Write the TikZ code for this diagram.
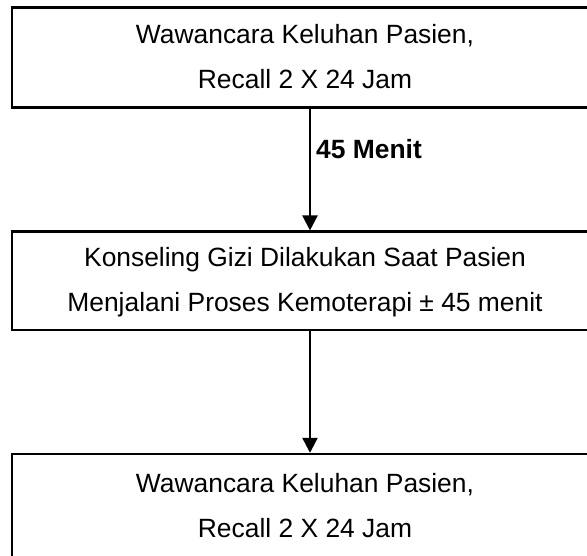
\documentclass[tikz,border=0pt]{standalone}
\usepackage{fontspec}
\setmainfont{Liberation Sans}
\usetikzlibrary{arrows.meta}
\newcommand\lnstrut{\rule[-6pt]{0pt}{29pt}}
\begin{document}
\begin{tikzpicture}[x=1pt,y=-1pt,
  box/.style={draw=black,line width=2.4pt,rectangle,minimum width=586pt,inner sep=0pt,align=center,font=\fontsize{26.4pt}{45pt}\selectfont},
  arr/.style={draw=black,line width=2.4pt,-{Triangle[length=15pt,width=15pt]}},
  lbl/.style={font=\fontsize{26.4pt}{30pt}\selectfont\bfseries,inner sep=0pt,anchor=base west}]
\clip (0,0) rectangle (587,556);
\node[box,minimum height=100pt] (b1) at (305,57.6) {\lnstrut Wawancara Keluhan Pasien,\\\lnstrut Recall 2 X 24 Jam};
\node[box,minimum height=98.3pt] (b2) at (305,280.8) {\lnstrut Konseling Gizi Dilakukan Saat Pasien\\\lnstrut Menjalani Proses Kemoterapi ± 45 menit};
\node[box,minimum height=104pt] (b3) at (305,506) {\lnstrut Wawancara Keluhan Pasien,\\\lnstrut Recall 2 X 24 Jam};
\draw[arr] ([xshift=5pt]b1.south) -- ([xshift=5pt]b2.north);
\draw[arr] ([xshift=5pt]b2.south) -- ([xshift=5pt]b3.north);
\node[lbl] (l1) at (316,158.5) {45 Menit};
\end{tikzpicture}
\end{document}
